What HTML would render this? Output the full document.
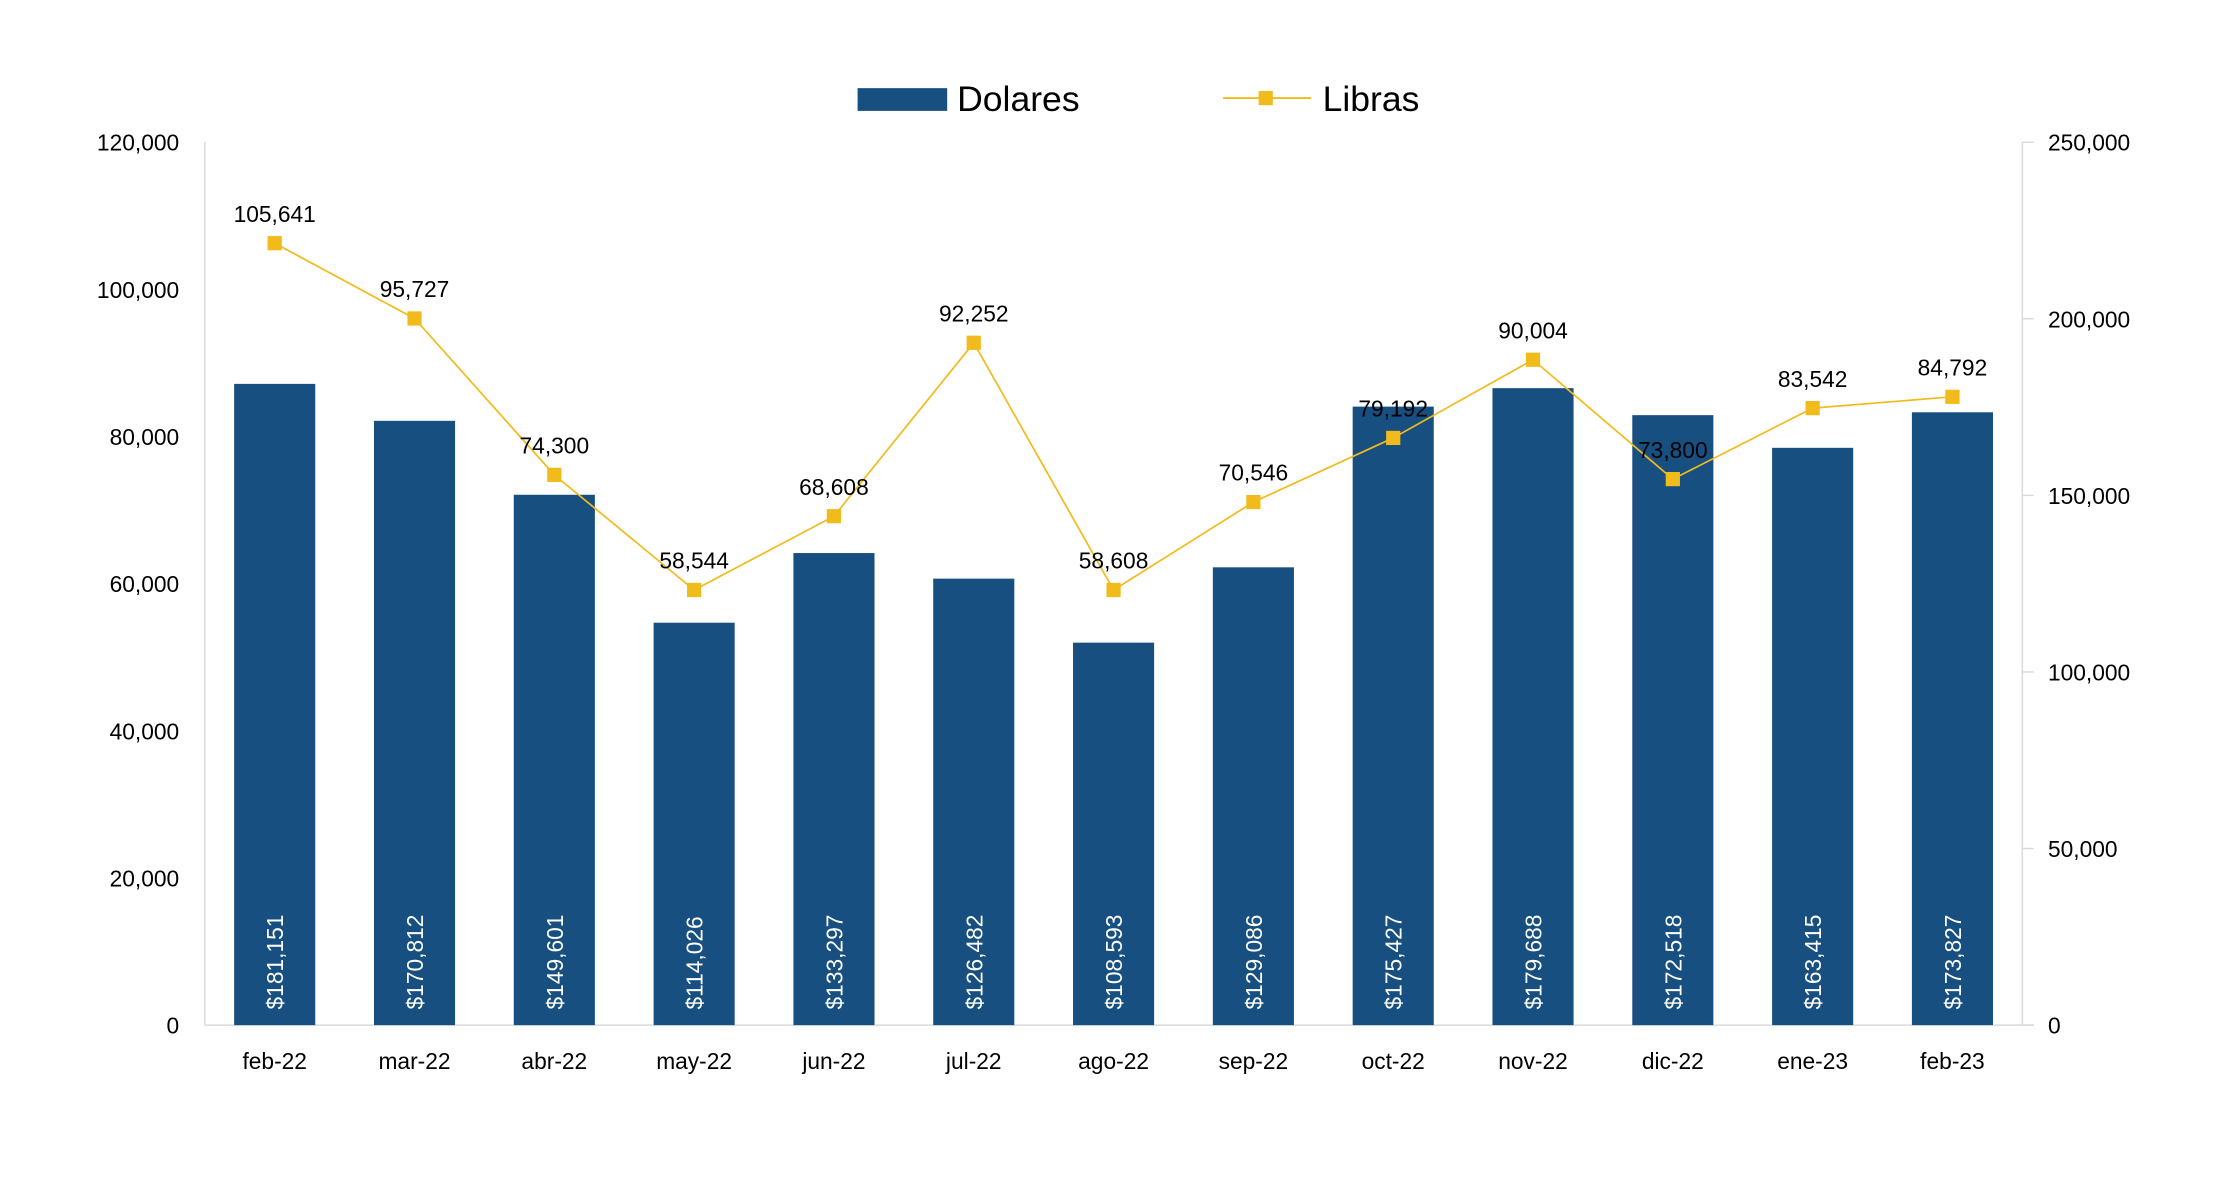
<!DOCTYPE html>
<html><head><meta charset="utf-8"><style>
html,body{margin:0;padding:0;background:#fff;}
svg{display:block;font-family:"Liberation Sans",sans-serif;}
</style></head><body>
<svg id="chart" width="2230" height="1200" viewBox="0 0 1568 844" preserveAspectRatio="none" xmlns="http://www.w3.org/2000/svg">
<g id="legend">
  <rect x="603" y="62" width="63" height="16" fill="#174F81"/>
  <text x="673" y="78" font-size="25" fill="#000">Dolares</text>
  <line x1="860" y1="69" x2="922" y2="69" stroke="#F2BB1C" stroke-width="1.3"/>
  <rect x="885" y="64" width="10" height="10" fill="#F2BB1C"/>
  <text x="930" y="78" font-size="25" fill="#000">Libras</text>
</g>
<g id="axes"></g>
<g id="bars"></g>
<g id="line"></g>
</svg>
<script>
const categories=["feb-22","mar-22","abr-22","may-22","jun-22","jul-22","ago-22","sep-22","oct-22","nov-22","dic-22","ene-23","feb-23"];
const dolaresValues=[87150,82130,72080,54690,64160,60680,51980,62220,84060,86570,82900,78460,83290];
const dolaresLabels=["$181,151","$170,812","$149,601","$114,026","$133,297","$126,482","$108,593","$129,086","$175,427","$179,688","$172,518","$163,415","$173,827"];
const librasValues=[221400,200080,155800,123200,144100,193200,123200,148100,166260,188400,154600,174700,177900];
const librasLabels=["105,641","95,727","74,300","58,544","68,608","92,252","58,608","70,546","79,192","90,004","73,800","83,542","84,792"];
const leftTicks=[0,20000,40000,60000,80000,100000,120000];
const rightTicks=[0,50000,100000,150000,200000,250000];

const NS="http://www.w3.org/2000/svg";
const L=144,R=1422,T=100,B=721;
const leftMax=120000,rightMax=250000;
const band=(R-L)/categories.length;
const xc=i=>L+band*(i+0.5);
const yL=v=>B-(v/leftMax)*(B-T);
const yR=v=>B-(v/rightMax)*(B-T);
const fmt=n=>n.toLocaleString("en-US");
function mk(tag,attrs,parent,txt){const e=document.createElementNS(NS,tag);for(const k in attrs)e.setAttribute(k,attrs[k]);if(txt!==undefined)e.textContent=txt;parent.appendChild(e);return e;}

const axes=document.getElementById("axes");
let e=mk("line",{x1:L,y1:T,x2:L,y2:B,stroke:"#D9D9D9","stroke-width":1},axes);


e=mk("line",{x1:R,y1:T,x2:R,y2:B,stroke:"#D9D9D9","stroke-width":1},axes);


e=mk("line",{x1:L,y1:B,x2:R+8,y2:B,stroke:"#D9D9D9","stroke-width":1},axes);


leftTicks.forEach(v=>{
  const t=mk("text",{x:126,y:yL(v)+6,"font-size":16,"text-anchor":"end",fill:"#000"},axes,fmt(v));
  
  
});
rightTicks.forEach(v=>{
  const tk=mk("line",{x1:R,y1:yR(v),x2:R+8,y2:yR(v),stroke:"#D9D9D9"},axes);
  
  
  const t=mk("text",{x:1440,y:yR(v)+6,"font-size":16,fill:"#000"},axes,fmt(v));
  
  
});
categories.forEach((c,i)=>{
  const t=mk("text",{x:xc(i),y:752,"font-size":16,"text-anchor":"middle",fill:"#000"},axes,c);
  
  
});

const bars=document.getElementById("bars");
const bw=band*0.58;
dolaresValues.forEach((v,i)=>{
  const r=mk("rect",{x:xc(i)-bw/2,y:yL(v),width:bw,height:B-yL(v),fill:"#174F81"},bars);
  
  
  const t=mk("text",{x:0,y:0,"font-size":16,fill:"#fff",transform:`translate(${xc(i)+6},710) rotate(-90)`},bars,dolaresLabels[i]);
  
  
});

const line=document.getElementById("line");
const pts=librasValues.map((v,i)=>xc(i)+","+yR(v)).join(" ");
const pl=mk("polyline",{points:pts,fill:"none",stroke:"#F2BB1C","stroke-width":1.2},line);


librasValues.forEach((v,i)=>{
  const m=mk("rect",{x:xc(i)-5,y:yR(v)-5,width:10,height:10,fill:"#F2BB1C"},line);
  
  
  const t=mk("text",{x:xc(i),y:yR(v)-15,"font-size":16,"text-anchor":"middle",fill:"#000"},line,librasLabels[i]);
  
  
});
</script>
</body></html>
